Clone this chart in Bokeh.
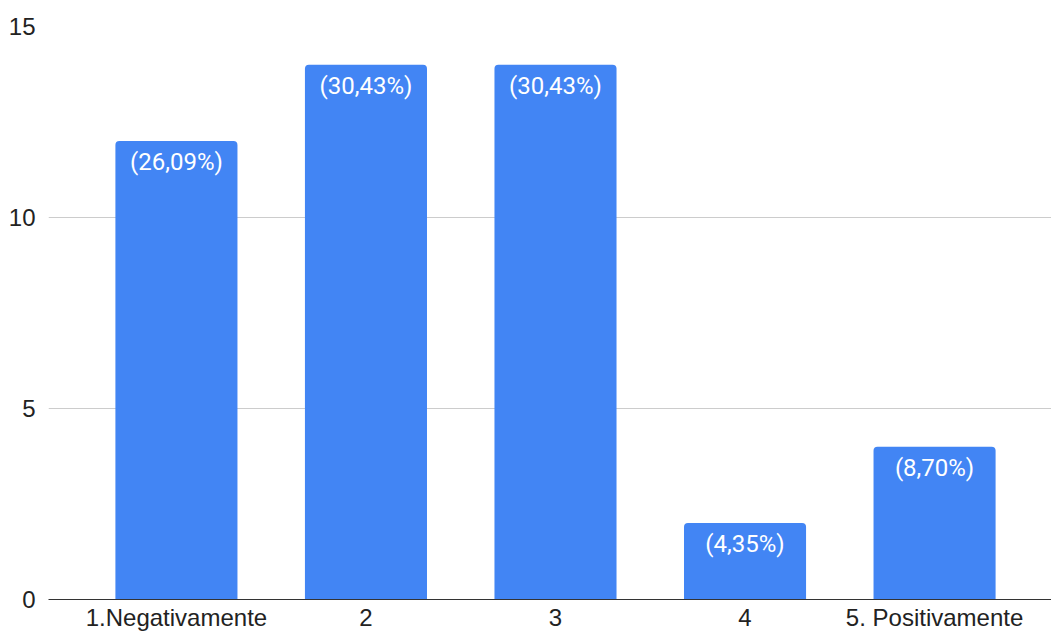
from bokeh.plotting import figure
from bokeh.models import ColumnDataSource, Range1d, FixedTicker
from bokeh.core.properties import value
from bokeh.embed import file_html
from bokeh.resources import INLINE

categories = ["1.Negativamente", "2", "3", "4", "5. Positivamente"]
counts = [12, 14, 14, 2, 4]
pct_labels = ["(26,09%)", "(30,43%)", "(30,43%)", "(4,35%)", "(8,70%)"]
y_ticks = [0, 5, 10, 15]

xs = list(range(len(categories)))
src = ColumnDataSource(dict(x=xs, top=counts, lab=pct_labels))

p = figure(width=1051, height=634, output_backend="svg", toolbar_location=None,
           x_range=Range1d(-0.675, 4.617), y_range=Range1d(0, 15),
           min_border_left=48, min_border_right=0, min_border_top=26, min_border_bottom=35)
p.outline_line_color = None
p.background_fill_color = "white"
p.border_fill_color = "white"

p.vbar(x="x", top="top", width=0.644, bottom=0, source=src, fill_color="#4285F4",
       line_color=None, border_radius=(4, 4, 0, 0))

p.text(x="x", y="top", text="lab", source=src, text_color="white",
       text_font=value("Roboto"), text_font_size="24px", text_align="center",
       text_baseline="top", y_offset=7)

p.xgrid.visible = False
p.ygrid.grid_line_color = "#cccccc"
p.ygrid.grid_line_width = 1
p.ygrid.ticker = FixedTicker(ticks=y_ticks)

p.yaxis.ticker = FixedTicker(ticks=y_ticks)
p.yaxis.axis_line_color = None
p.yaxis.major_tick_line_color = None
p.yaxis.minor_tick_line_color = None
p.yaxis.major_label_text_font = "Liberation Sans"
p.yaxis.major_label_text_font_size = "24px"
p.yaxis.major_label_text_color = "#222222"
p.yaxis.major_label_standoff = 7

p.xaxis.ticker = FixedTicker(ticks=xs)
p.xaxis.major_label_overrides = {i: c for i, c in enumerate(categories)}
p.xaxis.axis_line_color = "#333333"
p.xaxis.axis_line_width = 1
p.xaxis.major_tick_line_color = None
p.xaxis.minor_tick_line_color = None
p.xaxis.major_tick_out = 0
p.xaxis.major_tick_in = 0
p.xaxis.minor_tick_out = 0
p.xaxis.major_label_text_font = "Liberation Sans"
p.xaxis.major_label_text_font_size = "24px"
p.xaxis.major_label_text_line_height = 1.0
p.xaxis.major_label_text_color = "#222222"
p.xaxis.major_label_standoff = 4

open("out.html", "w").write(file_html(p, INLINE))
